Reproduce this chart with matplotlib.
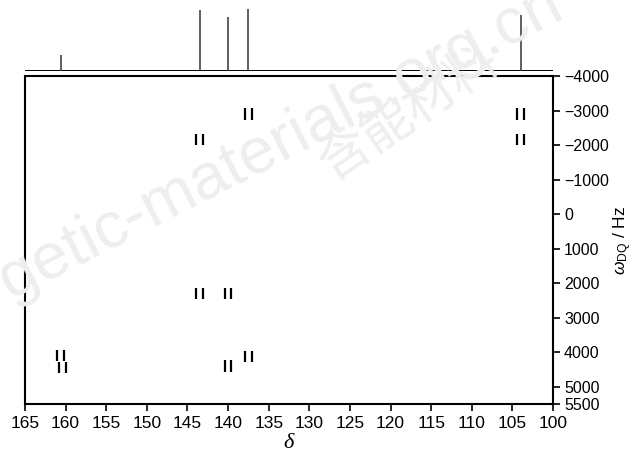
import matplotlib
matplotlib.use("Agg")
import matplotlib.pyplot as plt

# 1D spectrum on top (shift / relative height)
peak_shift = [160.6, 143.5, 140.0, 137.5, 104.0]
peak_height = [0.25, 0.97, 0.86, 0.98, 0.89]

# 2D cross peaks (shift / double-quantum frequency in Hz)
dq_shift = [137.5, 143.5, 104.0, 104.0, 143.5, 140.0, 160.6, 160.4, 140.0, 137.5]
dq_freq = [-2900, -2150, -2900, -2150, 2300, 2300, 4100, 4430, 4400, 4130]

x_ticks = list(range(165, 99, -5))
y_ticks = [-4000, -3000, -2000, -1000, 0, 1000, 2000, 3000, 4000, 5000, 5500]

plt.rcParams["font.family"] = ["Liberation Sans", "DejaVu Sans"]
plt.rcParams["mathtext.fontset"] = "custom"
plt.rcParams["mathtext.it"] = "Liberation Sans:italic"
plt.rcParams["mathtext.rm"] = "Liberation Sans"

W, H = 633, 454
fig = plt.figure(figsize=(W / 100, H / 100), dpi=100)

def box(x0, y0, x1, y1):
    # pixel box (top-left origin) -> figure fraction
    return [x0 / W, 1 - y1 / H, (x1 - x0) / W, (y1 - y0) / H]

# watermark
fig.text(0.895, 0.965, "energetic-materials.org.cn", fontsize=47, color="#eeeeee",
         rotation=27, rotation_mode="anchor", ha="right", va="baseline", zorder=0)
fig.text(0.525, 0.6, "含能材料", fontsize=37, color="#eeeeee",
         family=["Noto Sans CJK SC", "DejaVu Sans"],
         rotation=34, rotation_mode="anchor", ha="left", va="baseline", zorder=0)

ax = fig.add_axes(box(25, 76, 553, 404))
ax.patch.set_alpha(0)
half = 0.4
ax.vlines([s + half for s in dq_shift], [f - 160 for f in dq_freq], [f + 160 for f in dq_freq],
          color="black", lw=1.6)
ax.vlines([s - half for s in dq_shift], [f - 160 for f in dq_freq], [f + 160 for f in dq_freq],
          color="black", lw=1.6)

ax.set_xlim(165, 100)
ax.set_ylim(5500, -4000)
ax.set_xticks(x_ticks)
ax.set_yticks(y_ticks)
ax.yaxis.tick_right()
ax.yaxis.set_label_position("right")
ax.tick_params(axis="both", direction="out", length=5, width=1.2)
ax.tick_params(axis="x", labelsize=12.5, pad=4)
ax.tick_params(axis="y", labelsize=11.5, pad=3)
for sp in ax.spines.values():
    sp.set_linewidth(1.5)
ax.set_ylabel(r"$\omega_{\rm DQ}$ / Hz", fontsize=12.5, labelpad=2)
ax.set_xlabel("δ", fontsize=16, family="Liberation Serif", style="italic", labelpad=2)

# top 1D trace
ax_top = fig.add_axes(box(25, 8, 553, 71), sharex=ax)
ax_top.axis("off")
ax_top.patch.set_alpha(0)
ax_top.set_ylim(0, 1)
ax_top.axhline(0, color="black", lw=1.4)
ax_top.vlines(peak_shift, 0, peak_height, color="#333333", lw=1.1)

fig.savefig("out.png", dpi=100)
